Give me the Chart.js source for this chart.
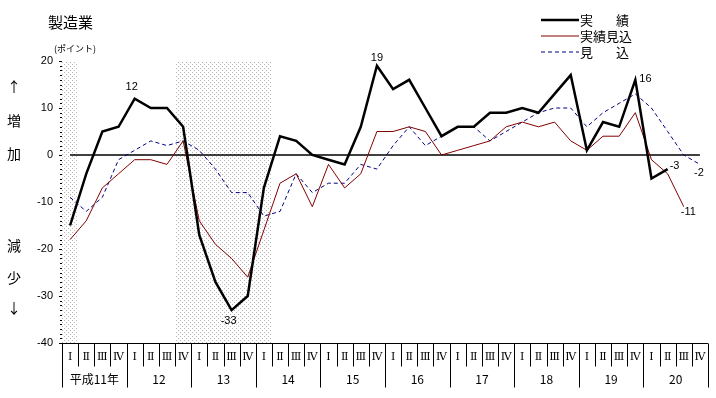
<!DOCTYPE html>
<html lang="ja">
<head>
<meta charset="UTF-8">
<title>製造業</title>
<script src="https://cdn.jsdelivr.net/npm/chart.js"></script>
<style>
  body { margin: 0; background: #fff; }
  #wrap { width: 716px; height: 398px; }
</style>
</head>
<body>
<div id="wrap"><canvas id="chart" width="716" height="398"></canvas></div>
<script>
// quarters: 平成11年 I ... 20年 IV
const yearLabels = ['平成11年', '12', '13', '14', '15', '16', '17', '18', '19', '20'];
const quarterNames = ['Ⅰ', 'Ⅱ', 'Ⅲ', 'Ⅳ'];

const actual = [-15, -4, 5, 6, 12, 10, 10, 6, -17, -27, -33, -30, -7, 4, 3, 0, -1, -2, 6, 19,
  14, 16, 10, 4, 6, 6, 9, 9, 10, 9, 13, 17, 1, 7, 6, 16, -5, -3, null, null];
const actualEst = [-18, -14, -7, -4, -1, -1, -2, 3, -14, -19, -22, -26, -16, -6, -4, -11, -2, -7, -4, 5,
  5, 6, 5, 0, 1, 2, 3, 6, 7, 6, 7, 3, 1, 4, 4, 9, -1, -4, -11, null];
const forecast = [-9, -12, -9, -1, 1, 3, 2, 3, 1, -3, -8, -8, -13, -12, -4, -8, -6, -6, -2, -3,
  2, 6, 2, 4, 6, 6, 3, 5, 7, 9, 10, 10, 6, 9, 11, 13, 10, 5, 0, -2];

// recession quarters (first..last index)
const shadedRanges = [[0, 0], [7, 12]];

const categories = [];
yearLabels.forEach(y => quarterNames.forEach(q => categories.push(y + ' ' + q)));

const CJK = '"Noto Sans CJK JP", sans-serif';
const NUM = '"Liberation Sans", Arial, sans-serif';
const ROMAN = '"DejaVu Serif", "Liberation Serif", serif';

// labels on a few points: dataset, index, offset
const pointLabels = [
  { ds: 0, i: 4, dx: -3, dy: -12, align: 'center' },
  { ds: 0, i: 10, dx: -3, dy: 11, align: 'center' },
  { ds: 0, i: 19, dx: 0, dy: -8, align: 'center' },
  { ds: 0, i: 35, dx: 4, dy: -1, align: 'left' },
  { ds: 0, i: 37, dx: 2, dy: -3, align: 'left' },
  { ds: 1, i: 38, dx: -3, dy: 5, align: 'left' },
  { ds: 2, i: 39, dx: -1, dy: 9, align: 'center' }
];

function dotPattern(ctx) {
  const c = document.createElement('canvas');
  c.width = 4; c.height = 4;
  const g = c.getContext('2d');
  g.fillStyle = '#fff';
  g.fillRect(0, 0, 4, 4);
  g.fillStyle = '#b4b4b4';
  g.fillRect(0, 0, 1, 1);
  g.fillRect(2, 2, 1, 1);
  return ctx.createPattern(c, 'repeat');
}

const backdrop = {
  id: 'backdrop',
  beforeDatasetsDraw(chart) {
    const { ctx, chartArea: a, scales: { x, y } } = chart;
    const half = (x.getPixelForValue(1) - x.getPixelForValue(0)) / 2;
    ctx.save();
    ctx.fillStyle = dotPattern(ctx);
    shadedRanges.forEach(([s, e]) => {
      const l = x.getPixelForValue(s) - half;
      const r = x.getPixelForValue(e) + half;
      ctx.fillRect(l, a.top, r - l, a.bottom - a.top);
    });
    // zero line
    const y0 = y.getPixelForValue(0);
    ctx.strokeStyle = '#000';
    ctx.lineWidth = 1.5;
    ctx.beginPath();
    ctx.moveTo(x.getPixelForValue(0), y0);
    ctx.lineTo(x.getPixelForValue(categories.length - 1), y0);
    ctx.stroke();
    ctx.restore();
  }
};

const decorations = {
  id: 'decorations',
  afterDraw(chart) {
    const { ctx, chartArea: a, scales: { x, y } } = chart;
    const half = (x.getPixelForValue(1) - x.getPixelForValue(0)) / 2;
    ctx.save();
    ctx.strokeStyle = '#000';
    ctx.fillStyle = '#000';
    ctx.lineWidth = 1;

    // minor ticks on y axis
    ctx.beginPath();
    for (let v = y.min; v <= y.max; v++) {
      const py = Math.round(y.getPixelForValue(v)) + 0.5;
      ctx.moveTo(a.left - (v % 10 === 0 ? 3 : 2), py);
      ctx.lineTo(a.left, py);
    }
    ctx.stroke();

    // bottom axis and category box
    const b = Math.round(a.bottom) + 0.5;
    ctx.beginPath();
    ctx.moveTo(a.left, b);
    ctx.lineTo(a.right, b);
    for (let i = 0; i <= categories.length; i++) {
      const px = Math.round(x.getPixelForValue(i) - half) + 0.5;
      ctx.moveTo(px, b);
      ctx.lineTo(px, b + (i % 4 === 0 ? 44 : 23));
    }
    ctx.stroke();

    ctx.textAlign = 'center';
    ctx.textBaseline = 'middle';
    ctx.font = '11px ' + ROMAN;
    categories.forEach((c, i) => {
      ctx.fillText(quarterNames[i % 4], x.getPixelForValue(i), b + 14);
    });
    ctx.font = '12px ' + CJK;
    yearLabels.forEach((t, k) => {
      const cx = (x.getPixelForValue(k * 4) + x.getPixelForValue(k * 4 + 3)) / 2;
      ctx.fillText(t, cx, b + 36);
    });

    // titles
    ctx.textAlign = 'left';
    ctx.font = '15px ' + CJK;
    ctx.fillText('製造業', 48, 22);
    ctx.font = '9px ' + CJK;
    ctx.fillText('(ポイント)', 54, 49);
    ctx.textAlign = 'center';
    ctx.font = '14px ' + CJK;
    [['↑', 87], ['増', 121], ['加', 154], ['減', 246], ['少', 278], ['↓', 308]].forEach(([t, py]) => {
      ctx.fillText(t, 14, py);
    });

    // legend
    const items = [
      { ds: 0, y: 20, parts: ['実', '績'] },
      { ds: 1, y: 36, parts: ['実績見込'] },
      { ds: 2, y: 52, parts: ['見', '込'] }
    ];
    ctx.font = '13px ' + CJK;
    items.forEach(it => {
      const d = chart.data.datasets[it.ds];
      ctx.save();
      ctx.strokeStyle = d.borderColor;
      ctx.lineWidth = d.borderWidth;
      ctx.setLineDash(d.borderDash || []);
      ctx.beginPath();
      ctx.moveTo(541, it.y);
      ctx.lineTo(579, it.y);
      ctx.stroke();
      ctx.restore();
      ctx.textAlign = 'left';
      ctx.fillText(it.parts[0], 580, it.y);
      if (it.parts[1]) {
        ctx.textAlign = 'right';
        ctx.fillText(it.parts[1], 629, it.y);
      }
    });

    // point labels
    ctx.font = '11px ' + NUM;
    pointLabels.forEach(p => {
      const v = chart.data.datasets[p.ds].data[p.i];
      ctx.textAlign = p.align;
      ctx.fillText(String(v), x.getPixelForValue(p.i) + p.dx, y.getPixelForValue(v) + p.dy);
    });
    ctx.restore();
  }
};

new Chart(document.getElementById('chart'), {
  type: 'line',
  data: {
    labels: categories,
    datasets: [
      { label: '実　　績', data: actual, borderColor: '#000000', borderWidth: 2.5 },
      { label: '実績見込', data: actualEst, borderColor: '#800000', borderWidth: 1 },
      { label: '見　　込', data: forecast, borderColor: '#000080', borderWidth: 1, borderDash: [4, 3] }
    ]
  },
  options: {
    responsive: false,
    animation: false,
    devicePixelRatio: 1,
    layout: { padding: { left: 0, right: 8, top: 61, bottom: 55 } },
    elements: {
      point: { radius: 0 },
      line: { tension: 0, fill: false, borderJoinStyle: 'miter' }
    },
    plugins: {
      legend: { display: false },
      tooltip: { enabled: false }
    },
    scales: {
      x: { type: 'category', offset: true, display: false },
      y: {
        min: -40, max: 20,
        afterFit(s) { s.width = 62; },
        grid: { display: false, drawTicks: false },
        border: { display: true, color: '#000', width: 1 },
        ticks: { stepSize: 10, padding: 9, color: '#000', font: { family: NUM, size: 11 } }
      }
    }
  },
  plugins: [backdrop, decorations]
});
</script>
</body>
</html>
